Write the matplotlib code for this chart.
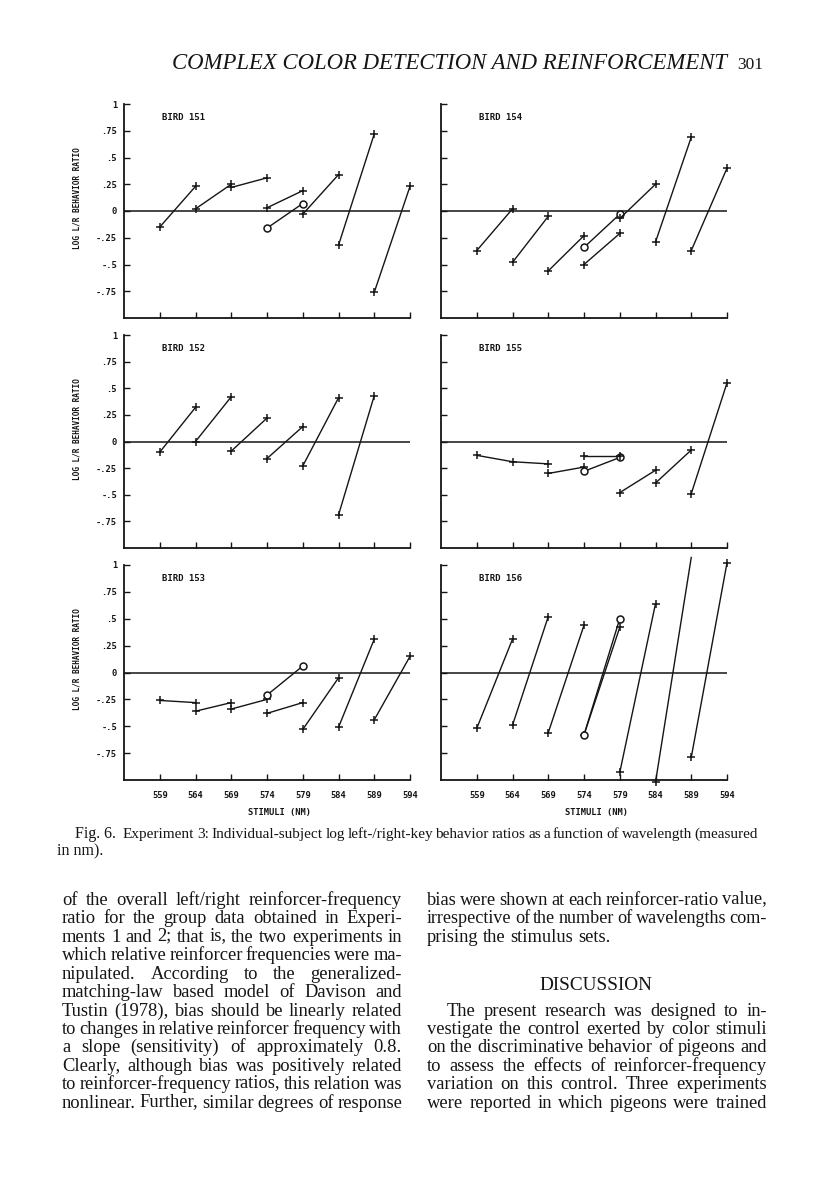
import matplotlib
matplotlib.use('Agg')
import matplotlib.pyplot as plt
from matplotlib.font_manager import FontProperties

W, H = 816, 1193
fig = plt.figure(figsize=(W / 100, H / 100), dpi=100)
renderer = fig.canvas.get_renderer()

INK = '#151515'

# ---------------- data ----------------
wavelengths = [559, 564, 569, 574, 579, 584, 589, 594]
ytick_values = [1, 0.75, 0.5, 0.25, 0, -0.25, -0.5, -0.75]
ytick_labels = ['1', '.75', '.5', '.25', '0', '-.25', '-.5', '-.75']
bird_names = ['BIRD 151', 'BIRD 154', 'BIRD 152', 'BIRD 155', 'BIRD 153', 'BIRD 156']

# segments: (wavelengths, log L/R behaviour ratios, marker)
bird151 = [((559, 564), (-0.15, 0.23), '+'),
           ((564, 569), (0.02, 0.25), '+'),
           ((569, 574), (0.22, 0.31), '+'),
           ((574, 579), (0.03, 0.19), '+'),
           ((574, 579), (-0.16, 0.07), 'o'),
           ((579, 584), (-0.03, 0.34), '+'),
           ((584, 589), (-0.32, 0.72), '+'),
           ((589, 594), (-0.76, 0.23), '+')]
bird154 = [((559, 564), (-0.37, 0.02), '+'),
           ((564, 569), (-0.48, -0.05), '+'),
           ((569, 574), (-0.56, -0.23), '+'),
           ((574, 579), (-0.34, -0.03), 'o'),
           ((574, 579), (-0.50, -0.21), '+'),
           ((579, 584), (-0.07, 0.25), '+'),
           ((584, 589), (-0.29, 0.69), '+'),
           ((589, 594), (-0.37, 0.40), '+')]
bird152 = [((559, 564), (-0.10, 0.32), '+'),
           ((564, 569), (0.00, 0.42), '+'),
           ((569, 574), (-0.09, 0.22), '+'),
           ((574, 579), (-0.16, 0.14), '+'),
           ((579, 584), (-0.23, 0.41), '+'),
           ((584, 589), (-0.69, 0.43), '+')]
bird155 = [((559, 564, 569), (-0.13, -0.19, -0.21), '+'),
           ((569, 574), (-0.30, -0.24), '+'),
           ((574, 579), (-0.28, -0.15), 'o'),
           ((574, 579), (-0.14, -0.14), '+'),
           ((579, 584), (-0.48, -0.27), '+'),
           ((584, 589), (-0.39, -0.08), '+'),
           ((589, 594), (-0.49, 0.55), '+')]
bird153 = [((559, 564), (-0.26, -0.28), '+'),
           ((564, 569), (-0.36, -0.28), '+'),
           ((569, 574), (-0.34, -0.25), '+'),
           ((574, 579), (-0.21, 0.06), 'o'),
           ((574, 579), (-0.38, -0.28), '+'),
           ((579, 584), (-0.53, -0.05), '+'),
           ((584, 589), (-0.51, 0.31), '+'),
           ((589, 594), (-0.44, 0.15), '+')]
bird156 = [((559, 564), (-0.52, 0.31), '+'),
           ((564, 569), (-0.49, 0.52), '+'),
           ((569, 574), (-0.56, 0.44), '+'),
           ((574, 579), (-0.58, 0.42), '+'),
           ((574, 579), (-0.58, 0.50), 'o'),
           ((579, 584), (-0.93, 0.64), '+'),
           ((584, 589), (-1.02, 1.07), '+first'),
           ((589, 594), (-0.79, 1.02), '+')]
birds = [bird151, bird154, bird152, bird155, bird153, bird156]

# ---------------- page text ----------------
header_title = 'COMPLEX COLOR DETECTION AND REINFORCEMENT'
header_page = '301'
caption_lead = 'Fig. 6.'
caption_line1 = ('Experiment 3: Individual-subject log left-/right-key behavior '
                 'ratios as a function of wavelength (measured')
caption_line2 = 'in nm).'
left_column = [
    'of the overall left/right reinforcer-frequency',
    'ratio for the group data obtained in Experi-',
    'ments 1 and 2; that is, the two experiments in',
    'which relative reinforcer frequencies were ma-',
    'nipulated. According to the generalized-',
    'matching-law based model of Davison and',
    'Tustin (1978), bias should be linearly related',
    'to changes in relative reinforcer frequency with',
    'a slope (sensitivity) of approximately 0.8.',
    'Clearly, although bias was positively related',
    'to reinforcer-frequency ratios, this relation was',
    'nonlinear. Further, similar degrees of response',
]
right_para1 = [
    'bias were shown at each reinforcer-ratio value,',
    'irrespective of the number of wavelengths com-',
    'prising the stimulus sets.',
]
section_title = 'DISCUSSION'
right_para2 = [
    'The present research was designed to in-',
    'vestigate the control exerted by color stimuli',
    'on the discriminative behavior of pigeons and',
    'to assess the effects of reinforcer-frequency',
    'variation on this control. Three experiments',
    'were reported in which pigeons were trained',
]

# ---------------- helpers ----------------
SERIF = 'Liberation Serif'
MONO = dict(family='DejaVu Sans Mono', weight='bold')


def fx(x):
    return x / W


def fy(y):
    return 1 - y / H


def text_width(s, fs, **kw):
    t = fig.text(0, 0, s, fontsize=fs, **kw)
    w = t.get_window_extent(renderer).width
    t.remove()
    return w


def put(s, x, y, fs, ha='left', **kw):
    fig.text(fx(x), fy(y), s, fontsize=fs, ha=ha, va='baseline', color=INK, **kw)


def comma_lift(word, fs, family):
    """Words whose only descender is a comma/semicolon are drawn a little
    low by the Agg text path; lift them back onto the baseline."""
    if not any(ch in word for ch in ',;'):
        return 0.0
    if any(ch in word for ch in 'gjpqyQ()'):
        return 0.0
    prop = FontProperties(family=family, size=fs)
    _, _, d = renderer.get_text_width_height_descent(',', prop, ismath=False)
    return 0.62 * d


def justified(s, x0, x1, y, fs_max, min_gap=3.0, family=SERIF):
    """Place the words of one line so that it runs from x0 to x1; one font
    size for the whole line, shrunk a little if the line is too long."""
    words = s.split()
    n_gaps = max(len(words) - 1, 1)
    natural = sum(text_width(w, fs_max, family=family) for w in words)
    scale = min(1.0, (x1 - x0 - min_gap * n_gaps) / natural)
    fs = round(fs_max * scale, 2)
    widths = [text_width(w, fs, family=family) for w in words]
    gap = (x1 - x0 - sum(widths)) / n_gaps
    x = x0
    for w, wd in zip(words, widths):
        put(w, x, y - comma_lift(w, fs, family), fs, family=family)
        x += wd + gap


def ragged(s, x0, y, fs, family=SERIF):
    words = s.split()
    space = text_width('a a', fs, family=family) - text_width('aa', fs, family=family)
    x = x0
    for w in words:
        wd = text_width(w, fs, family=family)
        put(w, x, y - comma_lift(w, fs, family), fs, family=family)
        x += wd + space


def fit_size(s, target, base=12, **kw):
    return base * target / text_width(s, base, **kw)


# ---------------- panels ----------------
col_x = [(124, 410), (441, 727)]
row_y = [(104, 318), (335, 548), (565, 780)]

for i, segs in enumerate(birds):
    r, c = divmod(i, 2)
    x0, x1 = col_x[c]
    y0, y1 = row_y[r]
    ax = fig.add_axes([fx(x0), fy(y1), (x1 - x0) / W, (y1 - y0) / H])
    ax.set_xlim(554, 594)
    ax.set_ylim(-1, 1)
    for s in ('top', 'right'):
        ax.spines[s].set_visible(False)
    for s in ('left', 'bottom'):
        ax.spines[s].set_linewidth(1.3)
        ax.spines[s].set_color(INK)
    ax.axhline(0, color=INK, lw=1.1)
    ax.set_xticks(wavelengths)
    ax.set_yticks(ytick_values)
    ax.tick_params(direction='in', length=4, width=1.0, colors=INK,
                   labelsize=6.3, pad=5)
    if c == 0:
        ax.set_yticklabels(ytick_labels, **MONO)
        ax.text(-0.163, 0.56, 'LOG L/R BEHAVIOR RATIO', rotation=90,
                transform=ax.transAxes, ha='center', va='center',
                fontsize=5.6, color=INK, **MONO)
    else:
        ax.set_yticklabels([])
    if r == 2:
        ax.set_xticklabels([str(w) for w in wavelengths], **MONO)
        ax.tick_params(axis='x', pad=8)
        ax.text(575.8, -0.15, 'STIMULI (NM)',
                transform=ax.get_xaxis_transform(), ha='center', va='center',
                fontsize=6.3, color=INK, **MONO)
    else:
        ax.set_xticklabels([])
    ax.text(559.3, 0.87, bird_names[i], ha='left', va='center',
            fontsize=6.5, color=INK, **MONO)
    for xs, ys, mk in segs:
        if mk == 'o':
            ax.plot(xs, ys, '-', color=INK, lw=1.0, marker='o', ms=5,
                    mfc='white', mec=INK, mew=1.1, clip_on=False, zorder=3)
        elif mk == '+first':
            ax.plot(xs, ys, '-', color=INK, lw=1.0, marker='+', ms=5.5,
                    mew=1.1, markevery=[0], clip_on=False, zorder=3)
        else:
            ax.plot(xs, ys, '-', color=INK, lw=1.0, marker='+', ms=5.5,
                    mew=1.1, clip_on=False, zorder=3)

# ---------------- header ----------------
hfs = fit_size(header_title, 727 - 172, family=SERIF, style='italic')
put(header_title, 172, 69, hfs, family=SERIF, style='italic')
pfs = fit_size(header_page, 26, family=SERIF)
put(header_page, 737, 69, pfs, family=SERIF)

# ---------------- caption ----------------
CAP_FS = 11.5
put(caption_lead, 75, 838, CAP_FS, family=SERIF)
justified(caption_line1, 123, 758, 838, CAP_FS, min_gap=2.5)
put(caption_line2, 57, 855, CAP_FS, family=SERIF)

# ---------------- body ----------------
BODY_FS = 13.3
base0 = 905
step = 18.42
for k, s in enumerate(left_column):
    justified(s, 62, 402, base0 + k * step, BODY_FS)
for k, s in enumerate(right_para1):
    if k < len(right_para1) - 1:
        justified(s, 427, 767, base0 + k * step, BODY_FS)
    else:
        ragged(s, 427, base0 + k * step, BODY_FS)
dfs = fit_size(section_title, 113, family=SERIF)
put(section_title, 596, 990, dfs, ha='center', family=SERIF)
for k, s in enumerate(right_para2):
    y = base0 + (6 + k) * step
    justified(s, 447 if k == 0 else 427, 767, y, BODY_FS)

fig.savefig('out.png', dpi=100, facecolor='white')
